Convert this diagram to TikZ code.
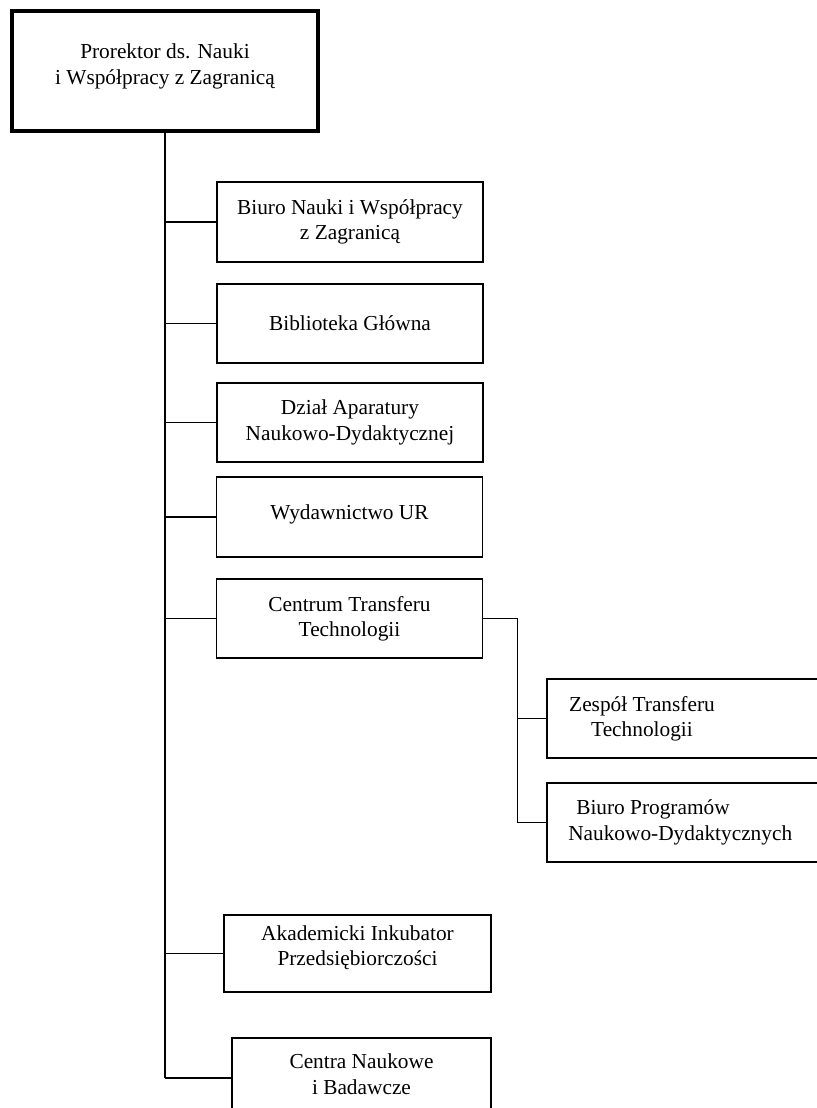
\documentclass[tikz,border=0pt]{standalone}
\usepackage{fontspec}
\setmainfont{Liberation Serif}

\begin{document}
\begin{tikzpicture}[x=0.75pt,y=0.75pt,yscale=-1,xscale=1,
    font=\fontsize{16}{19}\selectfont,
    unit/.style={draw,line width=1.3pt,minimum width=199.5pt,minimum height=59.5pt,align=center,inner sep=0.75pt},
    tag/.style={anchor=center,align=center,inner sep=0.75pt},
    link/.style={line width=1.2pt}]
                \useasboundingbox (0,0) rectangle (817,1108);
                \clip (0,0) rectangle (817,1108);
                \node [unit,line width=2.6pt,minimum width=229.5pt,minimum height=90pt] (prorektor) at (165,71) {Prorektor ds. Nauki\\i Współpracy z Zagranicą\\[-8.5pt]\mbox{}};
                \node [unit] (biuro) at (350,222) {Biuro Nauki i Współpracy\\z Zagranicą};
                \node [unit] (biblioteka) at (350,323.5) {Biblioteka Główna};
                \node [unit] (dzial) at (350,422.5) {Dział Aparatury\\Naukowo-Dydaktycznej};
                \node [unit] (wydawnictwo) at (349.5,517) {Wydawnictwo UR\\[-11.5pt]\mbox{}};
                \node [unit] (centrum) at (349.5,618.5) {Centrum Transferu\\Technologii};
                \node [unit,anchor=west,minimum width=270pt,label={[tag,xshift=72pt]west:Zespół Transferu\\Technologii}] (zespol) at (546,718.5) {};
                \node [unit,anchor=west,minimum width=270pt,label={[tag,anchor=west,align=left,xshift=15.75pt]west:\hspace*{6pt}Biuro Programów\\Naukowo-Dydaktycznych}] (programy) at (546,822.5) {};
                \node [unit,minimum width=200.25pt,minimum height=57.75pt] (inkubator) at (357.5,953.5) {Akademicki Inkubator\\Przedsiębiorczości\\[-7pt]\mbox{}};
                \node [unit,minimum width=194.25pt,minimum height=60pt] (centra) at (361.5,1078) {Centra Naukowe\\i Badawcze\\[-13pt]\mbox{}};
                \draw [link] (prorektor.south) -- (prorektor.south |- centra.west);
                \foreach \n in {biuro,biblioteka,dzial,wydawnictwo,centrum,inkubator,centra}
                    \draw [link] (prorektor.south |- \n.west) -- (\n.west);
                \draw [link] (centrum.east) -- ++(34,0) |- (zespol.west);
                \draw [link] (centrum.east) -- ++(34,0) |- (programy.west);
\end{tikzpicture}
\end{document}
